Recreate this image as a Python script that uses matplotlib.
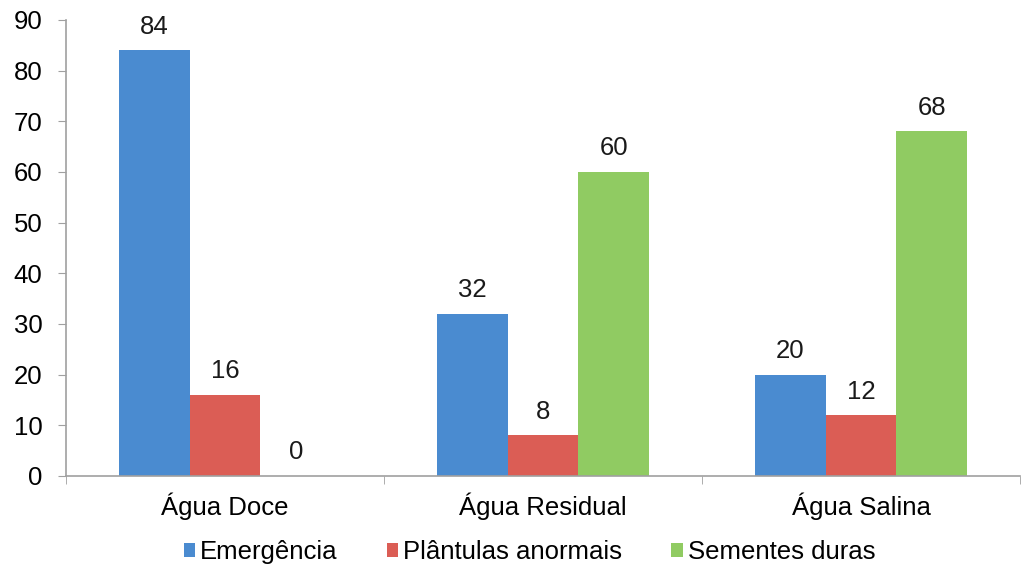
import matplotlib.pyplot as plt
import numpy as np

plt.rcParams['font.family'] = ['Liberation Sans', 'DejaVu Sans']

# Percentages per water type
grupos = ['Água Doce', 'Água Residual', 'Água Salina']
series = ['Emergência', 'Plântulas anormais', 'Sementes duras']
emergencia = [84, 32, 20]
plantulas = [16, 8, 12]
sementes = [0, 60, 68]
cores = ['#4A8BD0', '#DB5D55', '#90CB62']

fig = plt.figure(figsize=(10.22, 5.71), dpi=100)
ax = fig.add_axes([0.0646, 0.1664, 0.9334, 0.7986])

x = np.arange(len(grupos))
largura = 0.223
for i, (vals, nome, cor) in enumerate(zip([emergencia, plantulas, sementes], series, cores)):
    pos = x + (i - 1) * largura
    barras = ax.bar(pos, vals, largura, color=cor, label=nome)
    for b, v in zip(barras, vals):
        ax.annotate(str(v), (b.get_x() + b.get_width() / 2, v),
                    xytext=(0, 17), textcoords='offset points',
                    ha='center', va='center', fontsize=18.5, color='#1a1a1a')

ax.set_xlim(-0.5, 2.5)
ax.set_ylim(0, 90)
ax.set_yticks(range(0, 91, 10))
ax.set_xticks(x)
ax.set_xticklabels(grupos)
ax.set_xticks([-0.5, 0.5, 1.5, 2.5], minor=True)
ax.tick_params(axis='x', which='major', length=0, pad=12, labelsize=18.5)
ax.tick_params(axis='x', which='minor', length=6, color='#A0A0A0')
ax.tick_params(axis='y', length=6, color='#A0A0A0', labelsize=18.5, pad=11)

for s in ['top', 'right']:
    ax.spines[s].set_visible(False)
for s in ['left', 'bottom']:
    ax.spines[s].set_color('#A0A0A0')
    ax.spines[s].set_linewidth(1.2)

fig.legend(loc='lower center', bbox_to_anchor=(0.518, -0.028), ncol=3, frameon=False,
           fontsize=18.5, handlelength=0.45, handleheight=0.45, handletextpad=0.2,
           columnspacing=1.9)

fig.savefig('out.png', dpi=100)
